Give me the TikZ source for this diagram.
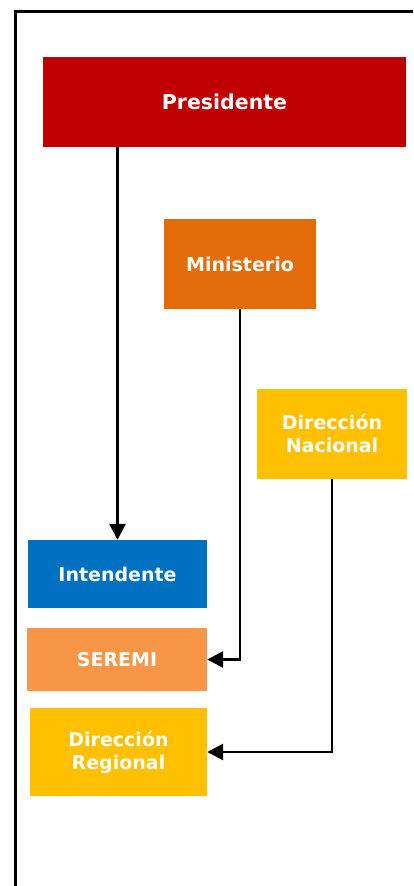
\documentclass[tikz,border=0pt]{standalone}
\usepackage{fontspec}
\setmainfont{DejaVu Sans}
\usetikzlibrary{arrows.meta}
\definecolor{cpres}{HTML}{C00000}
\definecolor{cmin}{HTML}{E46C0A}
\definecolor{cgold}{HTML}{FFC000}
\definecolor{cblue}{HTML}{0070C0}
\definecolor{corange}{HTML}{F79646}
\begin{document}
\begin{tikzpicture}[x=1pt,y=-1pt,
  box/.style={rectangle,inner sep=0pt,text=white,font=\fontsize{19}{23}\selectfont\bfseries,align=center},
  arr/.style={line width=2.8pt,-{Triangle[length=16pt,width=16pt]}}]
\useasboundingbox (0,0) rectangle (413,886);
\draw[line width=3pt] (15,886) -- (15,11) -- (413,11);
\node[box,fill=cpres,minimum width=363pt,minimum height=90pt,font=\fontsize{20.5}{24}\selectfont\bfseries] (pres) at (224.5,102) {Presidente};
\node[box,fill=cmin,minimum width=152pt,minimum height=90pt] (min) at (240,264) {Ministerio};
\node[box,fill=cgold,minimum width=150pt,minimum height=90pt] (dnac) at (332,434) {Dirección\\Nacional};
\node[box,fill=cblue,minimum width=179pt,minimum height=68pt] (int) at (117.5,574) {Intendente};
\node[box,fill=corange,minimum width=180pt,minimum height=63pt] (seremi) at (117,659.5) {SEREMI};
\node[box,fill=cgold,minimum width=177pt,minimum height=88pt] (dreg) at (118.5,752) {Dirección\\Regional};
\draw[arr] (int.north |- pres.south) -- (int.north);
\draw[arr] (min.south) -- (min.south |- seremi.east) -- (seremi.east);
\draw[arr] (dnac.south) -- (dnac.south |- dreg.east) -- (dreg.east);
\end{tikzpicture}
\end{document}
